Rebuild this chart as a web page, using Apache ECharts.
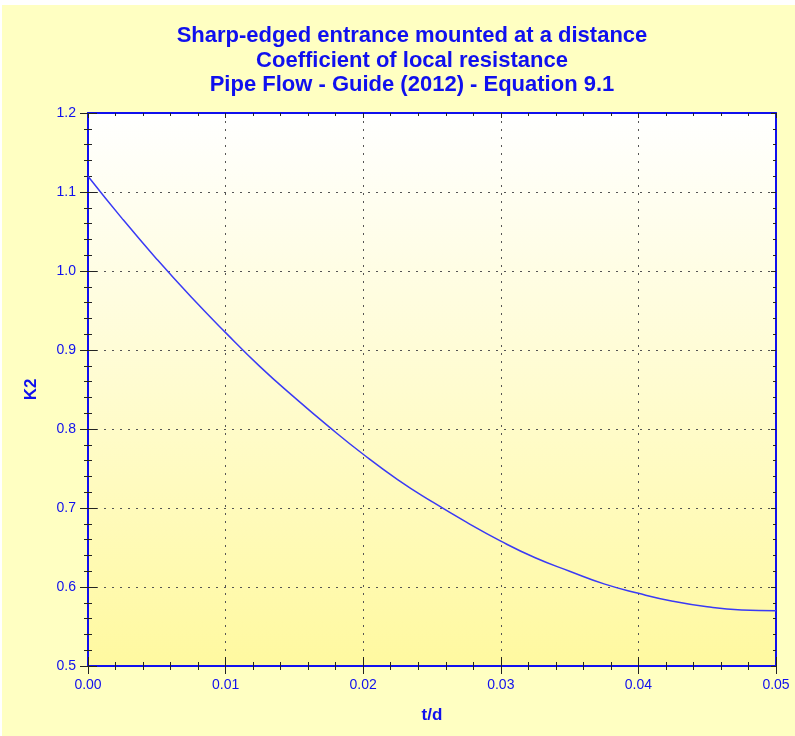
<!DOCTYPE html>
<html lang="en">
<head>
	<meta charset="UTF-8">
	<title>K2 - Sharp-edged entrance</title>
	<script src="https://cdn.jsdelivr.net/npm/echarts@6/dist/echarts.min.js"></script>
	<style>
		html, body {margin:0; padding:0; background:#fff;}
		#box {position:absolute; left:2px; top:5px; width:793px; height:731px; background:#ffffc2;}
	</style>
</head>
<body>
<div id="box"></div>
<script>
	// t/d values and K2
	let tdValues = [0, 0.0025, 0.005, 0.0075, 0.01, 0.0125, 0.015, 0.0175, 0.02, 0.0225, 0.025,
		0.0275, 0.03, 0.0325, 0.035, 0.0375, 0.04, 0.0425, 0.045, 0.0475, 0.05];
	let k2Values = [1.120, 1.066, 1.015, 0.967, 0.922, 0.879, 0.840, 0.803, 0.768, 0.736, 0.708,
		0.682, 0.658, 0.637, 0.620, 0.604, 0.592, 0.582, 0.575, 0.571, 0.570];
	let titleLines = ['Sharp-edged entrance mounted at a distance', 'Coefficient of local resistance', 'Pipe Flow - Guide (2012) - Equation 9.1'];

	let blue = '#1010ee';
	let tickColor = '#222';
	let font = '"Liberation Sans", Arial, sans-serif';

	// grid in chart coordinates (box is offset by 2,5)
	let grid = {left: 86, top: 108, width: 688, height: 553};

	function xAx(opts) {
		return Object.assign({
			type: 'value', min: 0, max: 0.05, interval: 0.01, gridIndex: 0,
			axisLine: {show: true, onZero: false, lineStyle: {color: blue, width: 2}},
			axisTick: {show: true, length: 8, lineStyle: {color: tickColor}},
			minorTick: {show: true, splitNumber: 5, length: 4, lineStyle: {color: tickColor}},
			axisLabel: {show: false},
			splitLine: {show: false}
		}, opts);
	}
	function yAx(opts) {
		return Object.assign({
			type: 'value', min: 0.5, max: 1.2, interval: 0.1, gridIndex: 0,
			axisLine: {show: true, onZero: false, lineStyle: {color: blue, width: 2}},
			axisTick: {show: true, length: 8, lineStyle: {color: tickColor}},
			minorTick: {show: true, splitNumber: 5, length: 4, lineStyle: {color: tickColor}},
			axisLabel: {show: false},
			splitLine: {show: false}
		}, opts);
	}

	let options = {
		animation: false,
		title: {
			text: titleLines.join('\n'),
			left: 405, top: 14, textAlign: 'center',
			textStyle: {color: blue, fontFamily: font, fontWeight: 'bold', fontSize: 22, lineHeight: 24.5}
		},
		grid: Object.assign({
			show: true, borderWidth: 0,
			backgroundColor: new echarts.graphic.LinearGradient(0, 0, 0, 1, [
				{offset: 0, color: '#ffffff'},
				{offset: 1, color: '#fff9a0'}
			])
		}, grid),
		xAxis: [
			xAx({
				position: 'bottom',
				name: 't/d', nameLocation: 'middle', nameGap: 41,
				nameTextStyle: {color: blue, fontFamily: font, fontWeight: 'bold', fontSize: 17},
				axisLabel: {show: true, color: blue, fontFamily: font, fontSize: 14, margin: 12,
					formatter: v => v.toFixed(2)},
				splitLine: {show: true, lineStyle: {color: '#555', width: 1, type: [2, 6]}}
			}),
			xAx({position: 'bottom', axisTick: {show: true, inside: true, length: 9, lineStyle: {color: tickColor}},
				minorTick: {show: true, splitNumber: 5, length: 4, lineStyle: {color: tickColor}}}),
			xAx({position: 'top', axisTick: {show: true, inside: true, length: 5, lineStyle: {color: tickColor}},
				minorTick: {show: true, splitNumber: 5, length: 3, lineStyle: {color: tickColor}}})
		],
		yAxis: [
			yAx({
				position: 'left',
				name: 'K2', nameLocation: 'middle', nameGap: 48, nameRotate: 90,
				nameTextStyle: {color: blue, fontFamily: font, fontWeight: 'bold', fontSize: 17},
				axisLabel: {show: true, color: blue, fontFamily: font, fontSize: 14, margin: 12,
					formatter: v => v.toFixed(1)},
				splitLine: {show: true, lineStyle: {color: '#555', width: 1, type: [2, 6]}}
			}),
			yAx({position: 'left', axisTick: {show: true, inside: true, length: 9, lineStyle: {color: tickColor}},
				minorTick: {show: true, splitNumber: 5, length: 4, lineStyle: {color: tickColor}}}),
			yAx({position: 'right', axisTick: {show: true, inside: true, length: 5, lineStyle: {color: tickColor}},
				minorTick: {show: true, splitNumber: 5, length: 3, lineStyle: {color: tickColor}}})
		],
		series: [
			{
				type: 'line',
				xAxisIndex: 0, yAxisIndex: 0,
				smooth: true,
				showSymbol: false,
				lineStyle: {color: '#3a3af5', width: 1.5},
				data: tdValues.map((t, i) => [t, k2Values[i]])
			}
		]
	};

	let chart = echarts.init(document.getElementById('box'));
	chart.setOption(options);
</script>
</body>
</html>
